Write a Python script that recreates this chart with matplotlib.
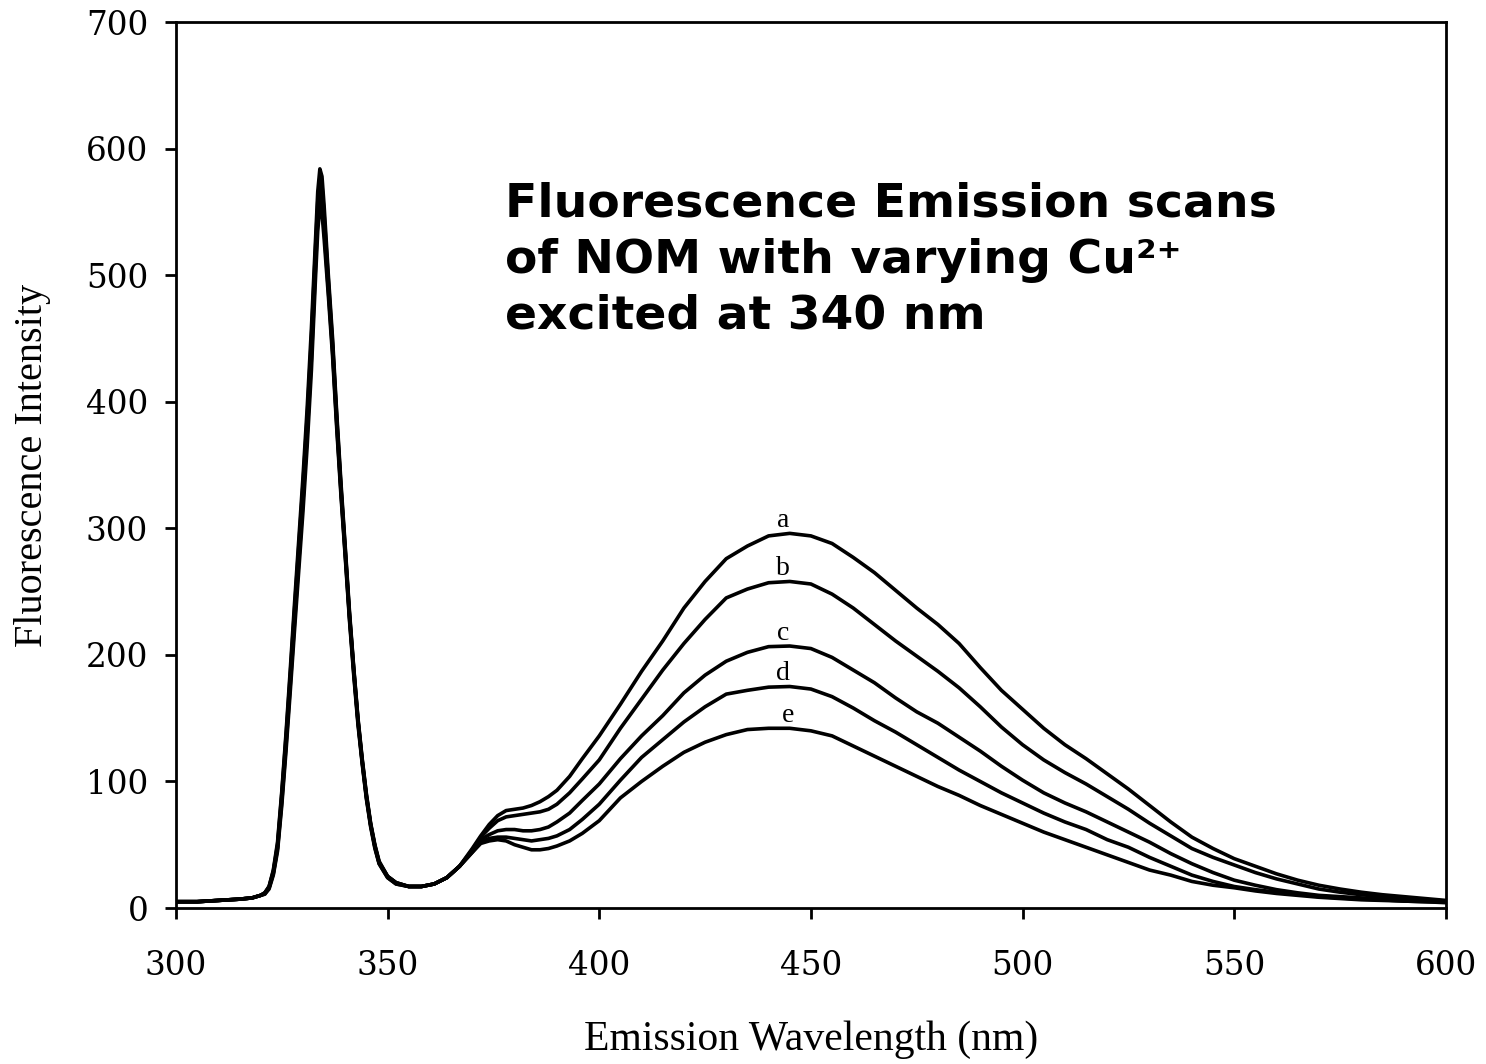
import matplotlib
matplotlib.use("Agg")
import matplotlib.pyplot as plt

# Emission wavelength grid (nm)
wavelength = [300, 305, 310, 315, 318, 320, 321, 322, 323, 324, 325, 326, 327, 328, 329,
              330, 331, 332, 333, 333.5, 334, 334.5, 335, 336, 337, 338, 339, 340, 341, 342,
              343, 344, 345, 346, 347, 348, 350, 352, 355, 358, 361, 364, 367, 370, 372,
              374, 376, 378, 380, 382, 384, 386, 388, 390, 393, 396, 400, 405, 410, 415,
              420, 425, 430, 435, 440, 445, 450, 455, 460, 465, 470, 475, 480, 485, 490,
              495, 500, 505, 510, 515, 520, 525, 530, 535, 540, 545, 550, 555, 560, 565,
              570, 575, 580, 585, 590, 595, 600]

curve_a = [5, 5, 6, 7, 8, 10, 12, 17, 30, 52, 92, 138, 188, 240, 290,
           340, 395, 458, 530, 566, 584, 578, 555, 500, 450, 390, 335, 285, 234, 190,
           150, 118, 90, 67, 50, 37, 25, 20, 17, 17, 19, 24, 33, 47, 57,
           66, 73, 77, 78, 79, 81, 84, 88, 93, 104, 118, 136, 161, 187, 211,
           237, 258, 276, 286, 294, 296, 294, 288, 277, 265, 251, 237, 224, 209, 190,
           172, 157, 142, 129, 118, 106, 94, 81, 68, 56, 47, 39, 33, 27, 22,
           18, 15, 12.5, 10.5, 9, 7.5, 6]

curve_b = [5, 5, 6, 7, 8, 10, 12, 17, 29, 50, 90, 135, 184, 235, 285,
           334, 388, 450, 523, 558, 577, 571, 548, 496, 446, 387, 332, 283, 232, 189,
           149, 117, 89, 66, 49, 36, 25, 20, 17, 17, 19, 24, 33, 46, 56,
           63, 69, 72, 73, 74, 75, 76, 78, 82, 91, 102, 117, 142, 165, 188,
           209, 228, 245, 252, 257, 258, 256, 248, 237, 224, 211, 199, 187, 174, 159,
           143, 129, 117, 107, 98, 88, 78, 67, 57, 47, 40, 34, 28, 23, 19,
           15, 12.5, 10.5, 9, 7.5, 6.5, 5.5]

curve_c = [5, 5, 6, 7, 8, 10, 12, 16, 28, 48, 87, 131, 180, 230, 279,
           327, 381, 442, 516, 551, 571, 565, 542, 492, 443, 384, 330, 281, 231, 188,
           148, 116, 88, 66, 49, 36, 25, 20, 17, 17, 19, 24, 33, 45, 54,
           58, 61, 62, 62, 61, 61, 62, 64, 68, 75, 85, 98, 118, 136, 152,
           170, 184, 195, 202, 206.5, 207, 205, 198, 188, 178, 166, 155, 146, 135, 124,
           112, 101, 91, 83, 76, 68, 60, 52, 43, 35, 28, 22, 18, 14.5, 12,
           10, 9, 8, 7, 6, 5.5, 5]

curve_d = [5, 5, 6, 7, 8, 10, 11, 16, 27, 47, 84, 128, 176, 225, 273,
           321, 374, 434, 509, 544, 564, 558, 536, 488, 440, 381, 328, 279, 229, 186,
           147, 115, 87, 65, 48, 35, 24, 19, 17, 17, 19, 24, 33, 44, 52,
           55, 56, 56, 55, 54, 53, 54, 55, 57, 62, 70, 82, 101, 119, 133,
           147, 159, 169, 172, 174.5, 175, 173, 167, 158, 148, 139, 129, 119, 109, 100,
           91, 83, 75, 68, 62, 54, 48, 40, 33, 26, 21, 17, 14.5, 12.5, 11,
           9, 8, 7, 6.5, 5.5, 5, 4.7]

curve_e = [5, 5, 6, 7, 8, 10, 11, 15, 26, 45, 81, 124, 171, 219, 266,
           313, 365, 425, 500, 535, 555, 549, 529, 484, 436, 378, 325, 277, 227, 184,
           145, 114, 86, 64, 47, 35, 24, 19, 17, 17, 19, 24, 33, 44, 51,
           53, 54, 53, 50, 48, 46, 46, 47, 49, 53, 59, 69, 87, 100, 112,
           123, 131, 137, 141, 142, 142, 140, 136, 128, 120, 112, 104, 96, 89, 81,
           74, 67, 60, 54, 48, 42, 36, 30, 26, 21, 18, 16, 13.5, 11.5, 10,
           8.5, 7.5, 6.5, 6, 5.5, 5, 4.2]

series_labels = ["a", "b", "c", "d", "e"]
series = [curve_a, curve_b, curve_c, curve_d, curve_e]
label_wavelength = [443.5, 443.5, 443.5, 443.5, 444.5]

x_ticks = [300, 350, 400, 450, 500, 550, 600]
y_ticks = [0, 100, 200, 300, 400, 500, 600, 700]

title_text = "Fluorescence Emission scans\nof NOM with varying Cu\u00b2\u207a\nexcited at 340 nm"
x_label = "Emission Wavelength (nm)"
y_label = "Fluorescence Intensity"

fig = plt.figure(figsize=(14.86, 10.64), dpi=100)
ax = fig.add_axes([0.1184, 0.1466, 0.8546, 0.8327])

for vals in series:
    ax.plot(wavelength, vals, color="black", lw=2.6, solid_joinstyle="round")

# letter labels just above the maximum of the broad band of each curve
for lab, vals, lx in zip(series_labels, series, label_wavelength):
    band_max = max(v for w, v in zip(wavelength, vals) if w >= 400)
    ax.text(lx, band_max + 10, lab, ha="center", va="center",
            fontsize=20, family="Liberation Serif")

ax.set_xlim(300, 600)
ax.set_ylim(0, 700)
ax.set_xticks(x_ticks)
ax.set_yticks(y_ticks)
for lbl in ax.get_xticklabels() + ax.get_yticklabels():
    lbl.set_fontfamily("DejaVu Serif")
    lbl.set_fontsize(23.5)

ax.tick_params(axis="both", direction="out", length=8, width=2,
               top=False, right=False)
ax.tick_params(axis="x", pad=22)
ax.tick_params(axis="y", pad=12)

for sp in ax.spines.values():
    sp.set_linewidth(2.0)

ax.set_xlabel(x_label, fontsize=30, family="Liberation Serif")
ax.set_ylabel(y_label, fontsize=29, family="Liberation Serif")
ax.xaxis.set_label_coords(0.5, -0.127)
ax.yaxis.set_label_coords(-0.098, 0.5)

fig.text(0.3398, 0.8295, title_text, ha="left", va="top", fontsize=34,
         fontweight="bold", family="DejaVu Sans", linespacing=1.32)

fig.savefig("out.png", dpi=100, facecolor="white")
